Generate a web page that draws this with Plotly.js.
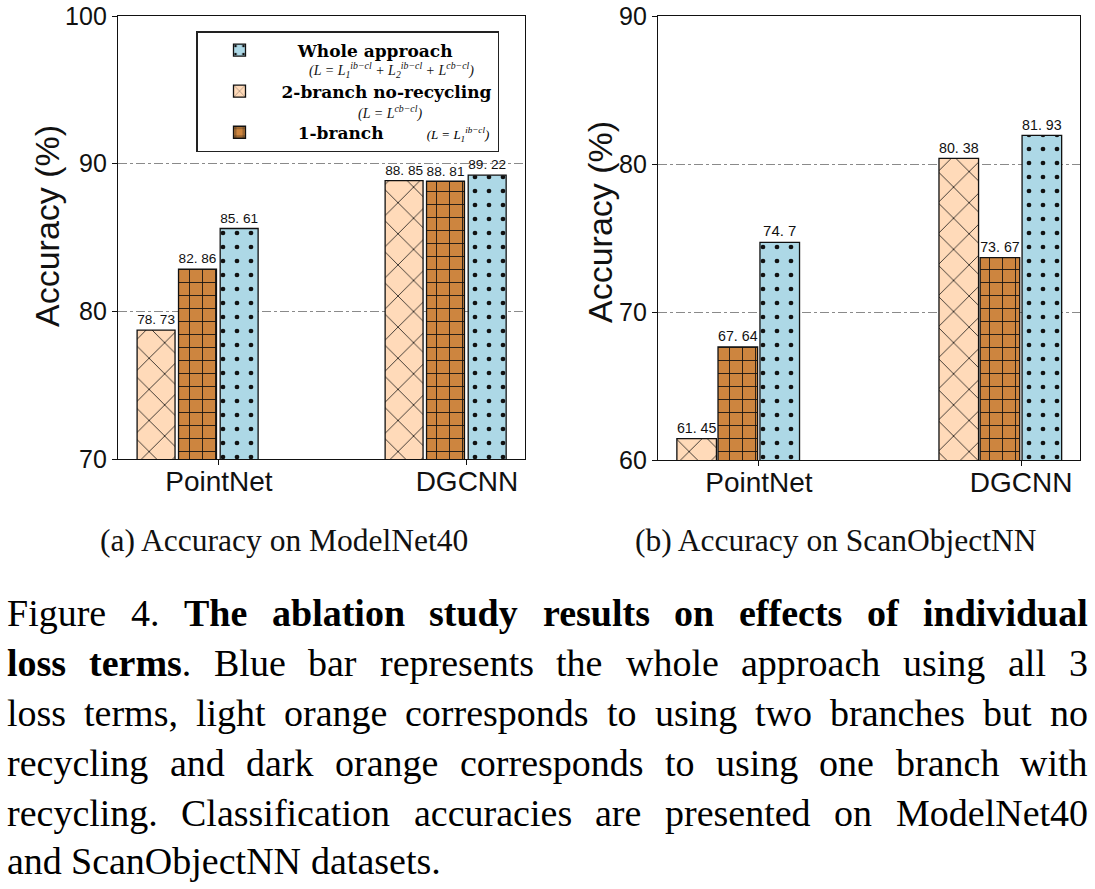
<!DOCTYPE html>
<html>
<head>
<meta charset="utf-8">
<script src="https://cdn.plot.ly/plotly-3.0.1.min.js"></script>
<style>html,body{margin:0;padding:0;background:#fff;} #chart{width:1095px;height:889px;}</style>
</head>
<body>
<div id="chart"></div>
<script>
// ---- data ----
const categories = ['PointNet', 'DGCNN'];
const catPos = [0, 1];
const modelnetWhole = [85.61, 89.22];
const modelnetTwoBranch = [78.73, 88.85];
const modelnetOneBranch = [82.86, 88.81];
const scanWhole = [74.7, 81.93];
const scanTwoBranch = [61.45, 80.38];
const scanOneBranch = [67.64, 73.67];
const seriesNames = [
  '\u00a0\u00a0\u00a0<b>Whole approach</b>',
  '<b>2-branch no-recycling</b>',
  '\u00a0\u00a0\u00a0<b>1-branch</b>\u00a0\u00a0\u00a0\u00a0\u00a0\u00a0\u00a0\u00a0<span style="font-size:13px;font-family:Liberation Serif"><i>(L = L<sub>1</sub><sup>ib\u2212cl</sup>)</i></span>'
];
const formulaWhole = '<i>(L = L<sub>1</sub><sup>ib\u2212cl</sup> + L<sub>2</sub><sup>ib\u2212cl</sup> + L<sup>cb\u2212cl</sup>)</i>';
const formulaTwo = '<i>(L = L<sup>cb\u2212cl</sup>)</i>';
const yTitle = 'Accuracy (%)';
const subCaptions = ['(a) Accuracy on ModelNet40', '(b) Accuracy on ScanObjectNN'];
const captionLines = [
  'Figure 4.  <b>The ablation study results on effects of individual</b>',
  '<b>loss terms</b>.  Blue bar represents the whole approach using all 3',
  'loss terms, light orange corresponds to using two branches but no',
  'recycling and dark orange corresponds to using one branch with',
  'recycling. Classification accuracies are presented on ModelNet40',
  'and ScanObjectNN datasets.'
];

// ---- styles ----
const W = 1095, H = 889;
const fmt = v => String(v).replace('.', '. ');
const ringPath = 'M1,3.5a2.6,2.6 0 1,0 5.2,0a2.6,2.6 0 1,0 -5.2,0M8,10.5a2.6,2.6 0 1,0 5.2,0a2.6,2.6 0 1,0 -5.2,0';
const styles = {
  whole: {color: '#ADD8E6', pattern: {shape: '.', path: ringPath, fgcolor: '#111', bgcolor: '#ADD8E6', size: 14, solidity: 0.09}},
  two: {color: '#FFDAB9', pattern: {shape: 'x', fgcolor: '#111', bgcolor: '#FFDAB9', size: 22, solidity: 0.07}},
  one: {color: '#CD853F', pattern: {shape: '+', fgcolor: '#111', bgcolor: '#CD853F', size: 13, solidity: 0.13}}
};
const geomA = {width: 0.153, off: {two: -0.330, one: -0.163, whole: 0.005}};
const geomB = {width: 0.151, off: {two: -0.313, one: -0.156, whole: 0.004}};
const labelFont = {family: 'Liberation Sans, Arial, sans-serif', size: 15, color: '#111'};
const serif = 'Liberation Serif, Times New Roman, serif';
const sans = 'Liberation Sans, Arial, sans-serif';

function bar(vals, key, name, geom, xa, ya, showlegend, rank) {
  return {
    type: 'bar', x: catPos, y: vals, name: name, xaxis: xa, yaxis: ya,
    width: geom.width, offset: geom.off[key], legendgroup: key,
    marker: {color: styles[key].color, pattern: styles[key].pattern, line: {color: '#111', width: 1.3}},
    text: vals.map(fmt), textposition: 'outside', textfont: labelFont, cliponaxis: false,
    showlegend: showlegend, legendrank: rank, hoverinfo: 'y'
  };
}

const data = [
  bar(modelnetWhole, 'whole', seriesNames[0], geomA, 'x', 'y', true, 1),
  bar(modelnetTwoBranch, 'two', seriesNames[1], geomA, 'x', 'y', true, 2),
  bar(modelnetOneBranch, 'one', seriesNames[2], geomA, 'x', 'y', true, 3),
  bar(scanWhole, 'whole', seriesNames[0], geomB, 'x2', 'y2', false, 1),
  bar(scanTwoBranch, 'two', seriesNames[1], geomB, 'x2', 'y2', false, 2),
  bar(scanOneBranch, 'one', seriesNames[2], geomB, 'x2', 'y2', false, 3)
];

const tickF = {family: sans, color: '#111'};
function xax(dom, range, anchor) {
  return {domain: dom, range: range, anchor: anchor, tickvals: catPos, ticktext: categories,
    ticks: 'outside', ticklen: 5, tickcolor: '#111', showline: true, linecolor: '#111', linewidth: 1.2,
    mirror: true, showgrid: false, zeroline: false, tickfont: Object.assign({size: 28}, tickF),
    ticklabelstandoff: -8, fixedrange: true};
}
function yax(dom, range, anchor) {
  return {domain: dom, range: range, anchor: anchor, dtick: 10, tick0: range[0],
    ticks: 'outside', ticklen: 5, tickcolor: '#111', showline: true, linecolor: '#111', linewidth: 1.2,
    mirror: true, showgrid: true, gridcolor: '#8a8a8a', gridwidth: 1, griddash: 'dashdot', zeroline: false,
    tickfont: Object.assign({size: 25}, tickF), fixedrange: true};
}

const annotations = [];
function ann(text, px, py, font, extra) {
  annotations.push(Object.assign({text: text, x: px / W, y: 1 - py / H, xref: 'paper', yref: 'paper',
    xanchor: 'center', yanchor: 'middle', showarrow: false, font: font, borderpad: 0, borderwidth: 0}, extra || {}));
}
// y-axis titles
ann(yTitle, 47, 226, {family: sans, size: 34, color: '#111'}, {textangle: -90});
ann(yTitle, 600, 222, {family: sans, size: 34, color: '#111'}, {textangle: -90});
// legend formulas
ann(formulaWhole, 391, 70, {family: serif, size: 14, color: '#111'});
ann(formulaTwo, 390, 113, {family: serif, size: 14, color: '#111'});
// sub captions
ann(subCaptions[0], 284, 540, {family: serif, size: 31.5, color: '#111'});
ann(subCaptions[1], 836, 540, {family: serif, size: 31.5, color: '#111'});

// figure caption, justified word by word
const capSize = 38, capLeft = 7, capRight = 1088;
const lineY = [613, 663, 713, 763, 813, 861];
const ctx = document.createElement('canvas').getContext('2d');
function measure(segs) {
  let w = 0;
  segs.forEach(s => { ctx.font = (s.b ? 'bold ' : '') + capSize + 'px "Liberation Serif"'; w += ctx.measureText(s.t).width; });
  return w;
}
captionLines.forEach((line, li) => {
  let bold = false, words = [], cur = [];
  (line.match(/<\/?b>|\s+|[^<\s]+/g) || []).forEach(tok => {
    if (tok === '<b>') bold = true;
    else if (tok === '</b>') bold = false;
    else if (/^\s+$/.test(tok)) { if (cur.length) { words.push(cur); cur = []; } }
    else cur.push({t: tok, b: bold});
  });
  if (cur.length) words.push(cur);
  const widths = words.map(measure);
  const total = widths.reduce((a, b) => a + b, 0);
  ctx.font = capSize + 'px "Liberation Serif"';
  const last = li === captionLines.length - 1;
  const gap = last ? ctx.measureText(' ').width : (capRight - capLeft - total) / (words.length - 1);
  let x = capLeft;
  words.forEach((segs, wi) => {
    const txt = segs.map(s => s.b ? '<b>' + s.t + '</b>' : s.t).join('');
    ann(txt, x, lineY[li], {family: serif, size: capSize, color: '#000'}, {xanchor: 'left'});
    x += widths[wi] + gap;
  });
});

const layout = {
  width: W, height: H, margin: {l: 0, r: 0, t: 0, b: 0},
  paper_bgcolor: '#fff', plot_bgcolor: '#fff', barmode: 'overlay',
  xaxis: xax([118 / W, 525 / W], [-0.407, 1.234], 'y'),
  yaxis: yax([1 - 459 / H, 1 - 16 / H], [70, 100], 'x'),
  xaxis2: xax([658 / W, 1080 / W], [-0.385, 1.225], 'y2'),
  yaxis2: yax([1 - 460 / H, 1 - 16 / H], [60, 90], 'x2'),
  legend: {x: 196 / W, y: 1 - 31 / H, xanchor: 'left', yanchor: 'top', bgcolor: '#fff', bordercolor: '#222', borderwidth: 1.5,
    font: {family: 'DejaVu Serif, serif', size: 17, color: '#000'}, itemwidth: 74,
    traceorder: 'grouped', tracegroupgap: 16},
  annotations: annotations,
  showlegend: true
};

Plotly.newPlot('chart', data, layout, {staticPlot: true, displayModeBar: false});
</script>
</body>
</html>
